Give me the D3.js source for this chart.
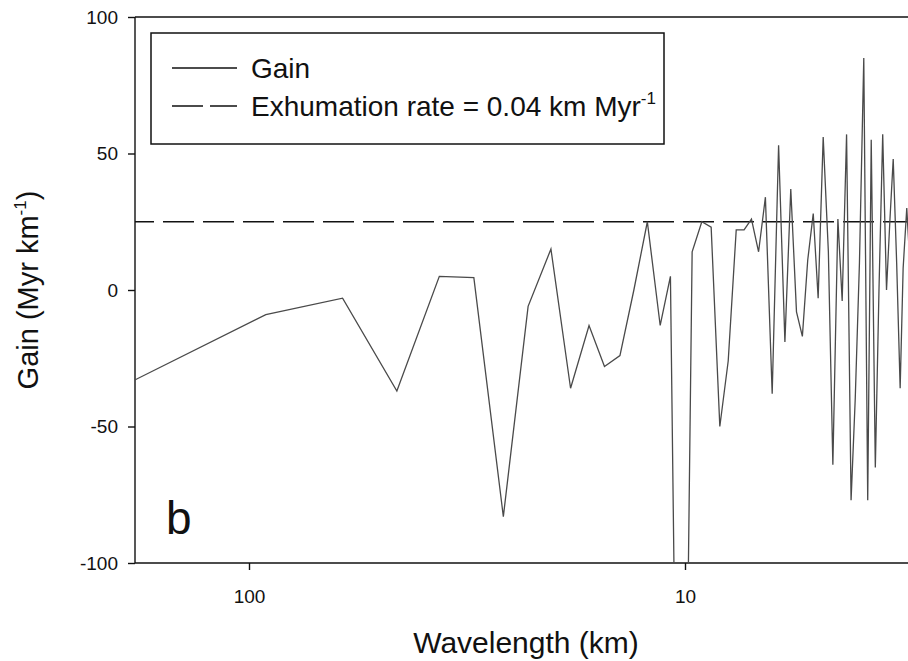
<!DOCTYPE html>
<html>
<head>
<meta charset="utf-8">
<script src="https://cdn.jsdelivr.net/npm/d3@7/dist/d3.min.js"></script>
<style>
  body { margin: 0; background: #fff; }
  svg { display: block; font-family: "Liberation Sans", Arial, sans-serif; }
</style>
</head>
<body>
<div id="chart"></div>
<script>
// wavelength (km) of each harmonic
const wavelengths = [183, 91.5, 61, 45.8, 36.6, 30.5, 26.1, 22.9, 20.3, 18.3,
  16.6, 15.3, 14.1, 13.1, 12.2, 11.4, 10.8, 10.2, 9.63, 9.15,
  8.71, 8.32, 7.96, 7.63, 7.32, 7.04, 6.78, 6.54, 6.31, 6.10,
  5.90, 5.72, 5.55, 5.38, 5.23, 5.08, 4.95, 4.82, 4.69, 4.58,
  4.46, 4.36, 4.26, 4.16, 4.07, 3.98, 3.89, 3.81, 3.74, 3.66,
  3.59, 3.52, 3.45, 3.39, 3.33, 3.27, 3.21, 3.16, 3.10, 3.05];

// gain (Myr km-1)
const gains = [-33, -9, -3, -37, 5, 4.5, -83, -6, 15, -36,
  -13, -28, -24, 0, 25, -13, 5, -320, 14, 25,
  23, -50, -26, 22, 22, 26, 14, 34, -38, 53,
  -19, 37, -8, -17, 11, 28, -3, 56, 14, -64,
  26, -4, 57, -77, -40, 10, 85, -77, 55, -65,
  0, 57, 0, 25, 48, 10, -36, 8, 30, 10];

const exhumationGain = [25];   // 1 / 0.04 km Myr-1
const yTicks = [100, 50, 0, -50, -100];
const xTicks = [100, 10];
const legendNames = ['Gain', 'Exhumation rate = 0.04 km Myr'];

const width = 908, height = 661;
const plot = {left: 135, top: 17, bottom: 563, right: 908};

const svg = d3.select('#chart').append('svg')
    .attr('width', width)
    .attr('height', height);

// x is log, reversed: long wavelengths on the left
const x = d3.scaleLog().domain([100, 10]).range([249, 685]);
const y = d3.scaleLinear().domain([-100, 100]).range([plot.bottom, plot.top]);

svg.append('defs').append('clipPath')
    .attr('id', 'plotClip')
  .append('rect')
    .attr('x', plot.left)
    .attr('y', plot.top)
    .attr('width', plot.right - plot.left)
    .attr('height', plot.bottom - plot.top);

// axes (plain hyphen for negatives, like the original)
const fmt = (d) => String(d);
const yAxis = svg.append('g')
    .attr('transform', `translate(${plot.left},0)`)
    .call(d3.axisLeft(y).tickValues(yTicks).tickFormat(fmt).tickSize(7).tickPadding(10));
const xAxis = svg.append('g')
    .attr('transform', `translate(0,${plot.bottom})`)
    .call(d3.axisBottom(x).tickValues(xTicks).tickFormat(fmt).tickSize(7).tickPadding(20));

[yAxis, xAxis].forEach((g) => {
  g.select('.domain').remove();
  g.selectAll('line').attr('stroke', '#111').attr('stroke-width', 1.4);
  g.selectAll('text')
      .attr('fill', '#111')
      .style('font-size', '19px')
      .style('font-family', '"Liberation Sans", Arial, sans-serif');
});

// frame (right side falls outside the picture)
const frame = svg.append('g').attr('stroke', '#111').attr('stroke-width', 1.4);
frame.append('line').attr('x1', plot.left).attr('x2', plot.left).attr('y1', plot.top).attr('y2', plot.bottom);
frame.append('line').attr('x1', plot.left).attr('x2', plot.right).attr('y1', plot.top).attr('y2', plot.top);
frame.append('line').attr('x1', plot.left).attr('x2', plot.right).attr('y1', plot.bottom).attr('y2', plot.bottom);

const content = svg.append('g').attr('clip-path', 'url(#plotClip)');

// exhumation rate reference
content.selectAll('.rate')
    .data(exhumationGain)
  .enter().append('line')
    .attr('class', 'rate')
    .attr('x1', plot.left)
    .attr('x2', plot.right)
    .attr('y1', (d) => y(d))
    .attr('y2', (d) => y(d))
    .attr('stroke', '#111')
    .attr('stroke-width', 1.4)
    .attr('stroke-dasharray', '31,9')
    .attr('stroke-dashoffset', 12);

// gain spectrum
const points = wavelengths.map((w, i) => ({w: w, g: gains[i]}));
const line = d3.line().x((d) => x(d.w)).y((d) => y(d.g));
content.append('path')
    .datum(points)
    .attr('d', line)
    .attr('fill', 'none')
    .attr('stroke', '#4a4a4a')
    .attr('stroke-width', 1.3)
    .attr('stroke-linejoin', 'miter');

// legend
const legend = svg.append('g');
legend.append('rect')
    .attr('x', 151).attr('y', 33)
    .attr('width', 513).attr('height', 111)
    .attr('fill', '#fff')
    .attr('stroke', '#111')
    .attr('stroke-width', 1.5);

const rows = legend.selectAll('.row')
    .data(legendNames)
  .enter().append('g')
    .attr('class', 'row')
    .attr('transform', (d, i) => `translate(172,${68 + i * 38})`);
rows.append('line')
    .attr('x1', 0).attr('x2', 65)
    .attr('stroke', '#111')
    .attr('stroke-width', 1.4)
    .attr('stroke-dasharray', (d, i) => (i === 0 ? null : '31,7'));
const labels = rows.append('text')
    .attr('x', 79)
    .attr('y', 10)
    .attr('fill', '#111')
    .style('font-size', '28px')
    .text((d) => d);
labels.filter((d, i) => i === 1).append('tspan')
    .attr('dy', -12)
    .style('font-size', '17px')
    .text('-1');

// axis titles
svg.append('text')
    .attr('x', 526)
    .attr('y', 653)
    .attr('text-anchor', 'middle')
    .attr('fill', '#111')
    .style('font-size', '30px')
    .text('Wavelength (km)');

const yTitle = svg.append('text')
    .attr('transform', 'translate(38,290) rotate(-90)')
    .attr('text-anchor', 'middle')
    .attr('fill', '#111')
    .style('font-size', '29px');
yTitle.append('tspan').text('Gain (Myr km');
yTitle.append('tspan').attr('dy', -12).style('font-size', '17px').text('-1');
yTitle.append('tspan').attr('dy', 12).text(')');

// panel letter
svg.append('text')
    .attr('x', 166)
    .attr('y', 534)
    .attr('fill', '#111')
    .style('font-size', '46px')
    .text('b');
</script>
</body>
</html>
